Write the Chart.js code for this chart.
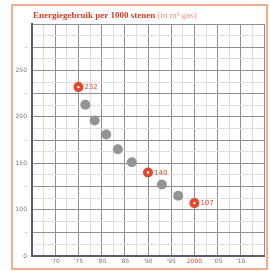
<!DOCTYPE html>
<html><head><meta charset="utf-8">
<script src="https://cdn.jsdelivr.net/npm/chart.js@4/dist/chart.umd.min.js"></script>
<style>html,body{margin:0;padding:0;background:#fff}#c{display:block}</style>
</head><body>
<canvas id="c" width="270" height="271"></canvas>
<script>
const titleBold = "Energiegebruik per 1000 stenen";
const titleLight = " (in m\u00B3 gas)";
const labelYears = [1970, 1975, 1980, 1985, 1990, 1995, 2000, 2005, 2010];
const xLabels = ["'70", "'75", "'80", "'85", "'90", "'95", "2000", "'05", "'10"];
const highlightedLabel = "2000";
const years = [1975, 1976.5, 1978.5, 1981, 1983.5, 1986.5, 1990, 1993, 1996.5, 2000];
const gas = [232, 213, 196, 181, 165, 151, 140, 127, 115, 107];
const highlighted = [1975, 1990, 2000];
const yLabelValues = [100, 150, 200, 250];
const yBreakValue = 50; // bottom of axis, shown as "0"

const RED = '#e4462c', GRAY = '#959393';
const pts = years.map((y, i) => ({x: y, y: gas[i]}));
const isHi = i => highlighted.includes(years[i]);

const deco = {
  id: 'deco',
  beforeDraw(chart) {
    const c = chart.ctx;
    c.save();
    c.strokeStyle = '#f4ad90';
    c.lineWidth = 2;
    c.strokeRect(12, 5, 255, 264);
    c.restore();
  },
  afterDatasetsDraw(chart) {
    const c = chart.ctx, meta = chart.getDatasetMeta(0);
    c.save();
    c.font = '7px "DejaVu Sans"';
    c.textBaseline = 'middle';
    meta.data.forEach((el, i) => {
      if (!isHi(i)) return;
      c.fillStyle = '#fff';
      c.beginPath(); c.arc(el.x, el.y, 1.2, 0, Math.PI * 2); c.fill();
      c.fillStyle = RED;
      c.fillText(String(gas[i]), el.x + 6, el.y + 0.5);
    });
    c.restore();
  },
  afterDraw(chart) {
    const c = chart.ctx;
    c.save();
    c.textBaseline = 'alphabetic';
    c.font = 'bold 9px "Liberation Serif"';
    c.fillStyle = '#d63d25';
    c.fillText(titleBold, 33, 18);
    const w = c.measureText(titleBold).width;
    c.font = '9px "Liberation Serif"';
    c.fillStyle = '#e9937c';
    c.fillText(titleLight, 33 + w, 18);
    c.restore();
  }
};

new Chart(document.getElementById('c'), {
  type: 'scatter',
  data: {datasets: [{
    data: pts,
    pointRadius: 5,
    pointHoverRadius: 5,
    pointBorderWidth: 0,
    pointBackgroundColor: pts.map((p, i) => isHi(i) ? RED : GRAY),
    pointBorderColor: pts.map((p, i) => isHi(i) ? RED : GRAY)
  }]},
  options: {
    responsive: false,
    animation: false,
    events: [],
    layout: {padding: {left: 0, top: 24, right: 6, bottom: 0}},
    plugins: {legend: {display: false}, tooltip: {enabled: false}, title: {display: false}},
    scales: {
      x: {
        type: 'linear', min: 1965, max: 2015,
        afterFit: s => { s.height = 15; },
        ticks: {
          stepSize: 2.5, autoSkip: false, maxRotation: 0, padding: 2,
          font: {size: 6, family: 'DejaVu Sans'},
          color: ctx => {
            const k = labelYears.indexOf(ctx.tick.value);
            return (k >= 0 && xLabels[k] === highlightedLabel) ? RED : '#777';
          },
          callback: v => { const k = labelYears.indexOf(v); return k >= 0 ? xLabels[k] : ''; }
        },
        grid: {
          drawTicks: false,
          color: ctx => (ctx.tick && ctx.tick.value % 5 === 0) ? '#8f8f8f' : '#dedede',
          lineWidth: 1
        },
        border: {color: '#5e596e', width: 2}
      },
      y: {
        type: 'linear', min: 50, max: 300,
        afterFit: s => { s.width = 32; },
        ticks: {
          stepSize: 12.5, autoSkip: false, padding: 5,
          font: {size: 6, family: 'DejaVu Sans'}, color: '#777',
          callback: v => {
            if (v === yBreakValue) return '0';
            if (yLabelValues.includes(v)) return String(v);
            if (v % 25 === 0 && v < 300) return '-';
            return '';
          }
        },
        grid: {
          drawTicks: false,
          color: ctx => (ctx.tick && ctx.tick.value % 25 === 0) ? '#8f8f8f' : '#dedede',
          lineWidth: 1
        },
        border: {color: '#5e596e', width: 2}
      }
    }
  },
  plugins: [deco]
});
</script>
</body></html>
